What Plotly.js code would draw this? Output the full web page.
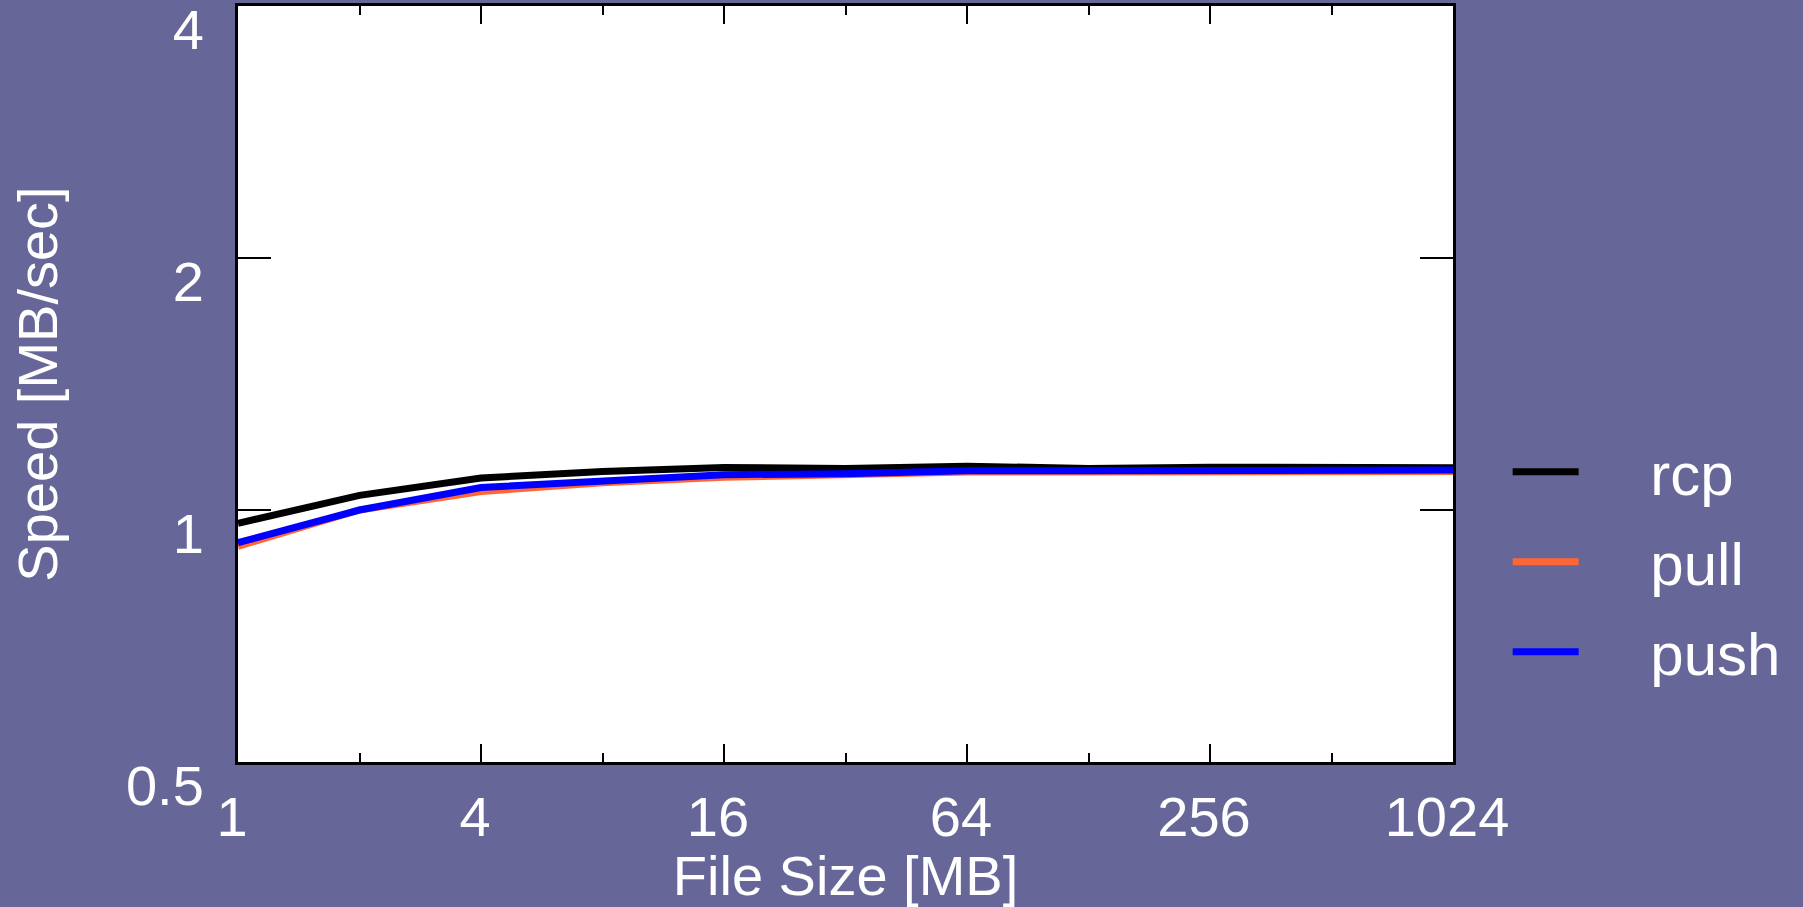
<!DOCTYPE html>
<html>
<head>
<meta charset="utf-8">
<script src="https://cdn.plot.ly/plotly-3.0.1.min.js"></script>
<style>html,body{margin:0;padding:0;background:#666699;}#chart{width:1803px;height:907px;}</style>
</head>
<body>
<div id="chart"></div>
<script>
const fileSizes = [1, 2, 4, 8, 16, 32, 64, 128, 256, 512, 1024];
const seriesNames = ['rcp', 'pull', 'push'];
const rcp  = [0.964, 1.041, 1.092, 1.112, 1.124, 1.121, 1.128, 1.121, 1.125, 1.126, 1.123];
const pull = [0.905, 1.000, 1.052, 1.078, 1.094, 1.100, 1.110, 1.110, 1.112, 1.112, 1.112];
const push = [0.914, 1.000, 1.064, 1.085, 1.102, 1.105, 1.114, 1.114, 1.114, 1.116, 1.116];
const xTickVals = [1, 4, 16, 64, 256, 1024];
const xTickText = ['1', '4', '16', '64', '256', '1024'];
const xMinorVals = [2, 8, 32, 128, 512];
const yTickVals = [0.5, 1, 2, 4];
const yTickText = ['0.5', '1', '2', '4'];

const FONT = 'Liberation Sans, Arial, Helvetica, sans-serif';
const PAD = '\u00a0\u00a0\u00a0\u00a0';
const colors = ['#000000', '#ff6633', '#0000ff'];
const values = [rcp, pull, push];
const traces = seriesNames.map((n, i) => ({
  type: 'scatter', mode: 'lines', name: PAD + n, x: fileSizes, y: values[i],
  legendgroup: n,
  line: {color: colors[i], width: 7}
}));

const layout = {
  width: 1803, height: 907,
  paper_bgcolor: '#666699', plot_bgcolor: '#ffffff',
  margin: {l: 238, r: 350, t: 6, b: 145},
  font: {family: FONT, color: '#ffffff', size: 56},
  showlegend: true,
  legend: {
    x: 1.045, xanchor: 'left', y: 0.265, yanchor: 'middle',
    bgcolor: 'rgba(0,0,0,0)', font: {size: 60, color: '#ffffff', family: FONT},
    traceorder: 'grouped', tracegroupgap: 9, itemwidth: 66
  },
  xaxis: {
    type: 'log', range: [0, Math.log10(1024)],
    tickmode: 'array', tickvals: xTickVals, ticktext: xTickText,
    ticks: 'inside', ticklen: 18, tickwidth: 2, tickcolor: '#000000',
    minor: {tickmode: 'array', tickvals: xMinorVals, ticks: 'inside', ticklen: 9, tickwidth: 2, tickcolor: '#000000', showgrid: false},
    showline: true, linecolor: '#000000', linewidth: 3, mirror: 'ticks',
    showgrid: false, zeroline: false, ticklabeloverflow: 'allow',
    tickfont: {size: 56, color: '#ffffff', family: FONT},
    ticklabelshift: -6, ticklabelstandoff: 4,
    title: {text: 'File Size [MB]', font: {size: 56, color: '#ffffff', family: FONT}, standoff: 22}
  },
  yaxis: {
    type: 'log', range: [Math.log10(0.5) - 1e-7, Math.log10(4) + 1e-7],
    tickmode: 'array', tickvals: yTickVals, ticktext: yTickText,
    ticks: 'inside', ticklen: 33, tickwidth: 2, tickcolor: '#000000',
    showline: true, linecolor: '#000000', linewidth: 3, mirror: 'ticks',
    showgrid: false, zeroline: false, ticklabeloverflow: 'allow',
    tickfont: {size: 56, color: '#ffffff', family: FONT},
    ticklabelshift: 23, ticklabelstandoff: 20,
    title: {text: 'Speed [MB/sec]', font: {size: 56, color: '#ffffff', family: FONT}, standoff: 51}
  }
};

Plotly.newPlot('chart', traces, layout, {displayModeBar: false, staticPlot: true});
</script>
</body>
</html>
